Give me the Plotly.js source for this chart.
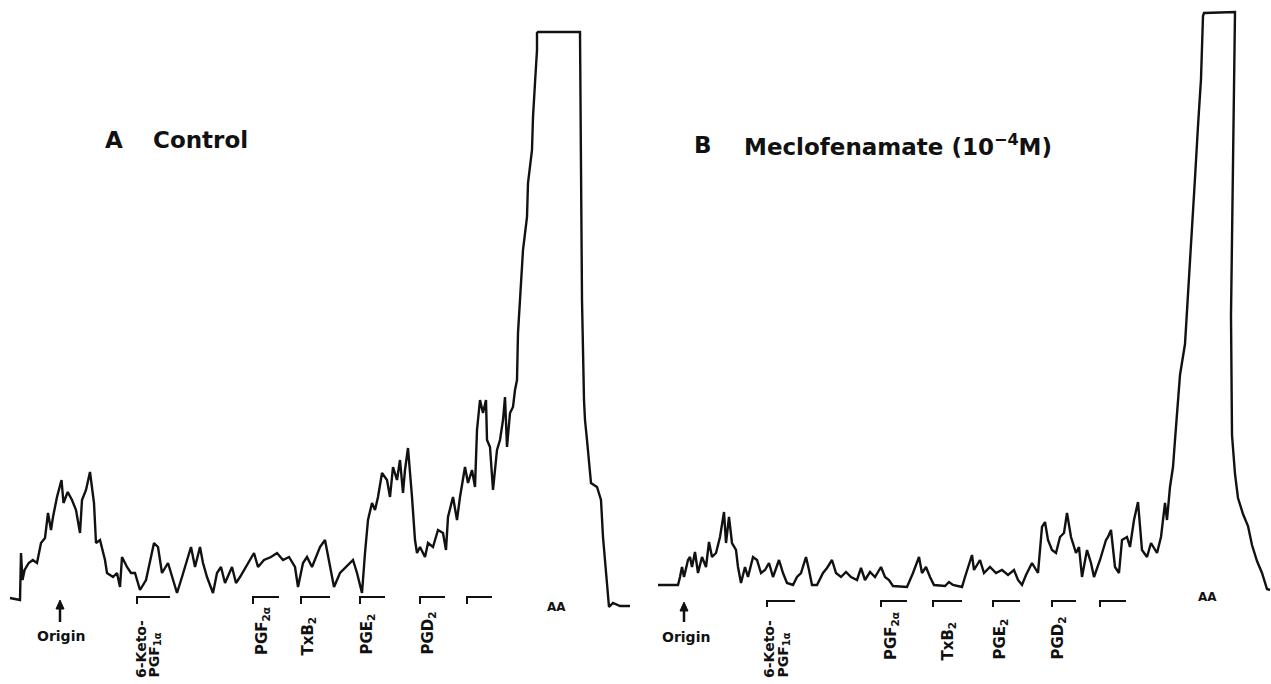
<!DOCTYPE html>
<html><head><meta charset="utf-8">
<script src="https://cdn.plot.ly/plotly-3.0.1.min.js"></script>
<style>html,body{margin:0;padding:0;background:#fff}#chart{width:1271px;height:684px}</style>
</head><body><div id="chart"></div>
<script>
// Radio-chromatogram scans: distance from origin (arb. units) vs. radioactivity (arb. units, clipped at full scale)
const controlDist = [-50,-40,-39,-37.5,-35.4,-31.3,-27.2,-23,-19,-15,-12,-9,-7,-3,1.5,3.5,7.7,12,16,20,22,26,30,34,36,40,45,47,53,57,60,62,67,71,75,80,86,90,94,98,102,108,112,117,122,127,131,135,140,143,147,153,157,161,165,172,176,180,186,194,198,204,211,217,223,229,235,238,243,247,252,260,265,270,274,280,286,293,297,302,305,308,312,315,318,322,327,330,333,337,340,343,345,348,352,355,357,360,365,368,373,378,383,386,388,393,397,400,405,408,412,415,417,420,423,426,427,430,433,437,440,443,445,447,450,453,455,457,458,460,463,467,468,472,473,475,477,477,478,520,521,522,524,525,527,531,537,541,543,547,549,553,560,570];
const controlCounts = [0,-2,45,18,28,35,38,35,55,60,85,68,81,101,118,95,106,98,88,65,98,108,126,95,55,58,38,25,21,25,11,41,31,25,25,8,18,35,55,51,25,35,21,5,21,38,51,31,51,35,21,5,25,31,15,31,15,21,31,45,31,38,41,45,38,41,31,11,35,41,31,51,58,31,11,25,31,38,25,5,45,78,95,88,101,125,118,101,131,118,138,105,128,150,101,58,45,51,41,55,51,68,65,48,81,101,78,101,131,115,128,111,168,198,185,198,158,151,108,148,158,178,201,151,185,191,208,218,265,298,348,381,415,448,481,515,548,565,566,566,448,298,198,178,158,115,111,98,61,18,-9,-5,-8,-8];

const meclofDist = [-26,-6,-4,-2,0,4,6,8,11,14,18,22,25,28,32,36,40,42,45,48,52,54,57,61,64,69,73,77,81,85,89,95,99,103,109,113,117,122,125,128,133,139,143,148,152,157,162,167,173,177,181,186,191,197,201,205,209,223,229,233,235,238,242,246,250,261,265,269,278,281,285,288,290,296,300,306,312,318,324,330,334,338,342,348,354,358,361,364,368,372,376,380,383,387,392,395,398,403,407,410,416,422,424,427,431,435,438,443,446,450,454,458,463,467,473,477,481,483,486,489,491,494,496,501,504,508,511,514,517,519,520,551,549,547,548,551,554,559,564,568,573,578,583,586];
const meclofCounts = [1,1,9,19,9,26,29,19,34,13,29,19,44,29,33,49,74,43,69,43,36,19,3,19,9,29,26,13,16,23,9,26,13,3,1,9,13,29,16,1,1,13,18,26,13,9,14,9,6,18,6,14,9,19,9,6,0,-1,13,23,29,13,19,9,1,0,4,1,-1,9,23,31,16,26,13,19,13,16,11,16,6,1,11,23,13,59,64,46,36,33,49,53,73,49,33,39,9,36,23,9,26,46,49,56,19,13,46,49,39,66,84,36,29,43,33,49,83,66,99,119,146,191,211,242,290,349,408,460,507,570,573,574,388,270,151,112,88,72,60,41,25,13,-3,-4];

// Reference standards (bracketed zones along the plate)
const standardNames = ['6-Keto-PGF1α', 'PGF2α', 'TxB2', 'PGE2', 'PGD2', ''];
const controlStdStart = [77, 193, 241, 300, 360, 407];
const controlStdEnd   = [110, 219, 270, 325, 385, 432];
const meclofStdStart  = [83, 197, 249, 309, 368, 416];
const meclofStdEnd    = [111, 223, 278, 336, 392, 442];
const panelLetters = ['A', 'B'];
const panelTitles = ['Control', 'Meclofenamate (10<sup>−4</sup>M)'];
const labelTexts = [['6-Keto-', 'PGF<sub>1α</sub>'], ['PGF<sub>2α</sub>'], ['TxB<sub>2</sub>'], ['PGE<sub>2</sub>'], ['PGD<sub>2</sub>'], []];

const FONT = 'DejaVu Sans, Liberation Sans, Arial, sans-serif';
const INK = '#111111';

const traces = [
  {x: controlDist, y: controlCounts, xaxis: 'x', yaxis: 'y', type: 'scatter', mode: 'lines',
   line: {color: INK, width: 2.4}, hoverinfo: 'skip'},
  {x: meclofDist, y: meclofCounts, xaxis: 'x2', yaxis: 'y2', type: 'scatter', mode: 'lines',
   line: {color: INK, width: 2.4}, hoverinfo: 'skip'}
];

const shapes = [];
const annotations = [];

// panel-specific placement (layout only)
const panels = [
  {xr: 'x', yr: 'y', starts: controlStdStart, ends: controlStdEnd, lineY: 1, tickY: -6,
   labelX: [[81, 94], [202], [248], [307], [368], []], labelBottom: [[-82, -82], [-59], [-60], [-59], [-59], []],
   arrow: {x: 0, tip: -2, base: -11, end: -24}, origin: {x: 1, y: -38}, aa: {x: 496, y: -9},
   letter: {x: 54, y: 458}, title: {x: 91, y: 458}},
  {xr: 'x2', yr: 'y2', starts: meclofStdStart, ends: meclofStdEnd, lineY: -15, tickY: -21,
   labelX: [[85, 99], [207], [264], [316], [374], []], labelBottom: [[-94, -94], [-76], [-77], [-76], [-76], []],
   arrow: {x: 0, tip: -16, base: -25, end: -36}, origin: {x: 2, y: -51}, aa: {x: 523, y: -11},
   letter: {x: 19, y: 441}, title: {x: 58, y: 441}}
];

panels.forEach((p, pi) => {
  for (let i = 0; i < p.starts.length; i++) {
    shapes.push({type: 'path', xref: p.xr, yref: p.yr,
      path: `M ${p.starts[i]},${p.tickY} L ${p.starts[i]},${p.lineY} L ${p.ends[i]},${p.lineY}`,
      line: {color: INK, width: 2}});
    labelTexts[i].forEach((t, j) => {
      annotations.push({xref: p.xr, yref: p.yr, x: p.labelX[i][j], y: p.labelBottom[i][j],
        text: t, showarrow: false, textangle: -90, xanchor: 'center', yanchor: 'bottom',
        font: {family: FONT, size: i === 0 ? 14 : 15, color: INK, weight: 700}});
    });
  }
  shapes.push({type: 'line', xref: p.xr, yref: p.yr, x0: p.arrow.x, x1: p.arrow.x,
    y0: p.arrow.base + 1, y1: p.arrow.end, line: {color: INK, width: 2.5}});
  shapes.push({type: 'path', xref: p.xr, yref: p.yr,
    path: `M ${p.arrow.x - 4},${p.arrow.base} L ${p.arrow.x},${p.arrow.tip} L ${p.arrow.x + 4},${p.arrow.base} Z`,
    fillcolor: INK, line: {color: INK, width: 1}});
  annotations.push({xref: p.xr, yref: p.yr, x: p.origin.x, y: p.origin.y, text: 'Origin',
    showarrow: false, xanchor: 'center', yanchor: 'middle',
    font: {family: FONT, size: 14, color: INK, weight: 700}});
  annotations.push({xref: p.xr, yref: p.yr, x: p.aa.x, y: p.aa.y, text: 'AA',
    showarrow: false, xanchor: 'center', yanchor: 'middle',
    font: {family: FONT, size: 12, color: INK, weight: 700}});
  annotations.push({xref: p.xr, yref: p.yr, x: p.letter.x, y: p.letter.y, text: panelLetters[pi],
    showarrow: false, xanchor: 'center', yanchor: 'middle',
    font: {family: FONT, size: 23, color: INK, weight: 700}});
  annotations.push({xref: p.xr, yref: p.yr, x: p.title.x, y: p.title.y, text: panelTitles[pi],
    showarrow: false, xanchor: 'left', yanchor: 'middle',
    font: {family: FONT, size: 23, color: INK, weight: 700}});
});

const ax = {visible: false, showgrid: false, zeroline: false, fixedrange: true};
const layout = {
  width: 1271, height: 684, margin: {l: 0, r: 0, t: 0, b: 0},
  paper_bgcolor: '#ffffff', plot_bgcolor: '#ffffff', showlegend: false,
  font: {family: FONT, size: 13, color: INK},
  xaxis: Object.assign({domain: [0, 0.5], range: [-60, 575.5], anchor: 'y'}, ax),
  yaxis: Object.assign({domain: [0, 1], range: [-86, 598], anchor: 'x'}, ax),
  xaxis2: Object.assign({domain: [0.5, 1], range: [-48.5, 587], anchor: 'y2'}, ax),
  yaxis2: Object.assign({domain: [0, 1], range: [-98, 586], anchor: 'x2'}, ax),
  shapes: shapes, annotations: annotations
};

Plotly.newPlot('chart', traces, layout, {displayModeBar: false});
</script>
</body></html>
